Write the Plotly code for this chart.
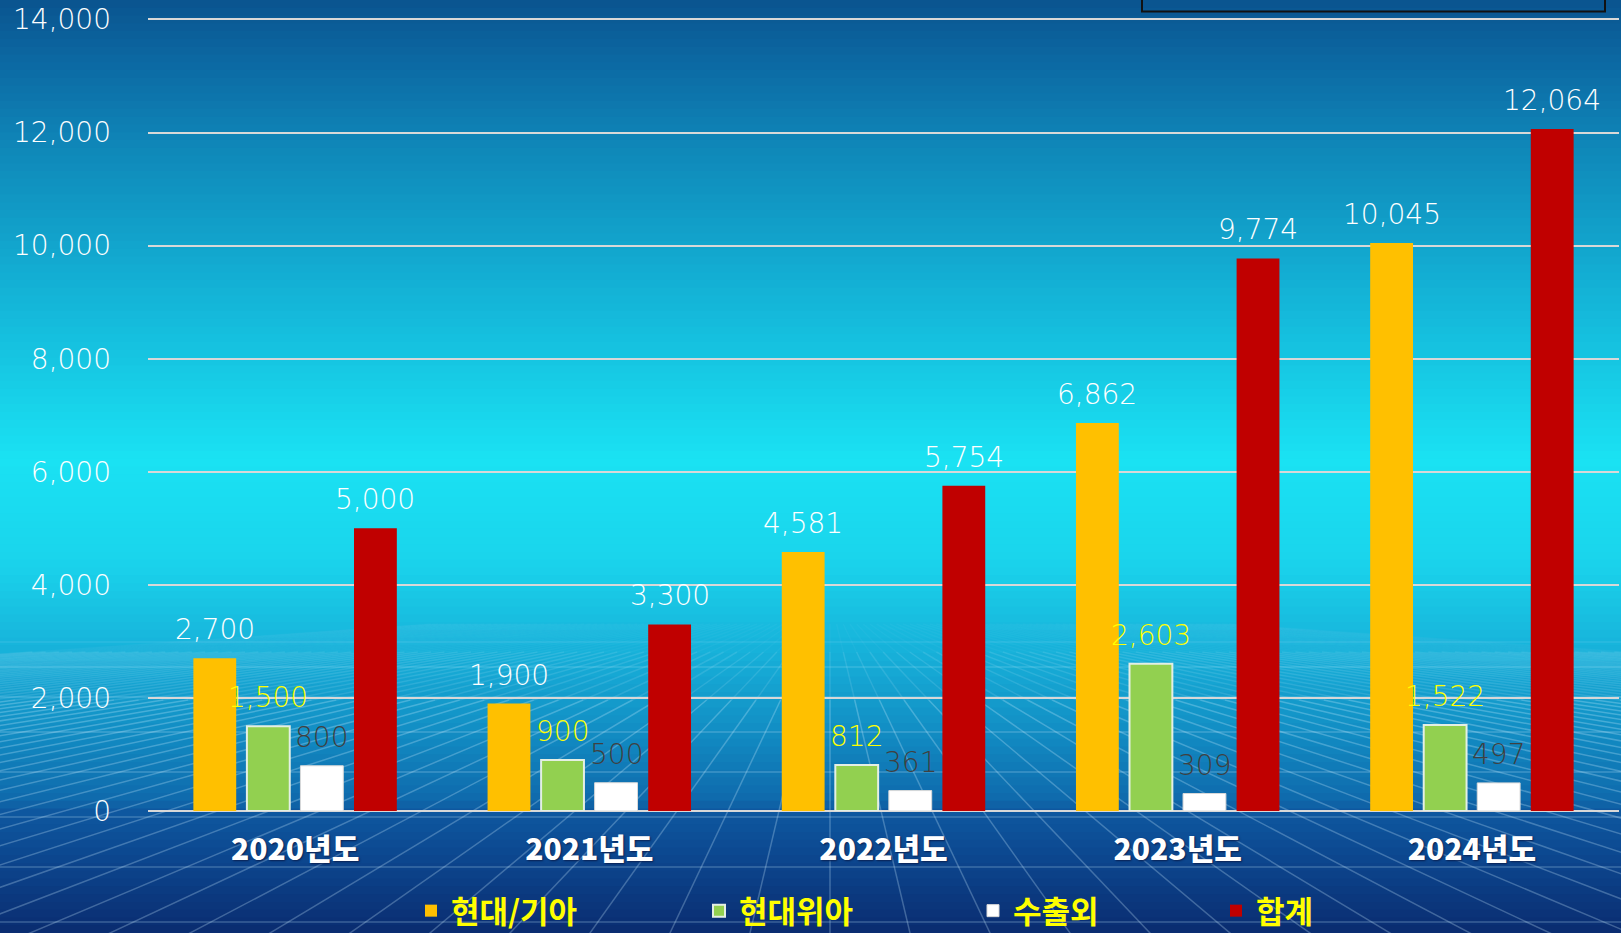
import plotly.graph_objects as go

# ---------------- data ----------------
years = ["2020년도", "2021년도", "2022년도", "2023년도", "2024년도"]
series_names = ["현대/기아", "현대위아", "수출외", "합계"]
hyundai_kia = [2700, 1900, 4581, 6862, 10045]
hyundai_wia = [1500, 900, 812, 2603, 1522]
export_etc = [800, 500, 361, 309, 497]
total = [5000, 3300, 5754, 9774, 12064]
y_ticks = [0, 2000, 4000, 6000, 8000, 10000, 12000, 14000]

# ---------------- styles ----------------
bar_colors = ["#ffc000", "#92d050", "#ffffff", "#c00000"]
bar_lines = ["#ffc000", "#e4efe4", "#d9d9d9", "#c00000"]
bar_line_w = [0, 2, 1, 0]
label_colors = ["#ffffff", "#ffff00", "#404040", "#ffffff"]
NUM_FONT = "DejaVu Sans"
KR_FONT = "Noto Sans CJK KR"

W_PX, H_PX = 1621, 933
L, R, T, B = 148, 1619, 16, 811
PW, PH = R - L, B - T
Y_MAX = 14061  # 14,000 gridline lands ~3.5px below the plot top
BARGAP, GROUPGAP = 0.272, 0.2
legend_square_x = [431, 719, 993, 1236]


def px(x):
    return (x - L) / PW


def py(y):
    return (B - y) / PH


fig = go.Figure()
x_idx = list(range(len(years)))
all_series = [hyundai_kia, hyundai_wia, export_etc, total]
legend_ids = ["legend", "legend2", "legend3", "legend4"]
for j, (name, vals) in enumerate(zip(series_names, all_series)):
    fig.add_trace(go.Bar(
        x=x_idx, y=vals, name=name, legend=legend_ids[j],
        marker=dict(color=bar_colors[j], line=dict(color=bar_lines[j], width=bar_line_w[j])),
        hoverinfo="y+name",
    ))

# value labels (annotations positioned at the bar centers)
slot = (1 - BARGAP) / len(series_names)
annotations = []
for j, vals in enumerate(all_series):
    off = (j - (len(series_names) - 1) / 2) * slot
    for i, v in enumerate(vals):
        annotations.append(dict(
            x=i + off, y=v, xref="x", yref="y", text=f"{v:,}", showarrow=False,
            yanchor="bottom", yshift=10,
            font=dict(family=NUM_FONT, size=28, color=label_colors[j], weight=200),
        ))

# ---------------- background (gradient + perspective floor grid) ----------------
stops = [
    (0, (10, 84, 143)), (60, (12, 104, 162)), (150, (15, 136, 185)), (300, (20, 181, 216)),
    (460, (26, 226, 243)), (560, (26, 212, 236)), (650, (23, 178, 218)), (730, (18, 142, 196)),
    (800, (15, 106, 172)), (811, (14, 88, 160)), (860, (12, 70, 142)), (933, (10, 44, 112)),
]


def col_at(y):
    for (y0, c0), (y1, c1) in zip(stops[:-1], stops[1:]):
        if y0 <= y <= y1:
            t = (y - y0) / (y1 - y0) if y1 > y0 else 0
            return "rgb(%d,%d,%d)" % tuple(round(a + (b - a) * t) for a, b in zip(c0, c1))
    return "rgb(%d,%d,%d)" % stops[-1][1]


shapes = []
N = 120
for k in range(N):
    y0 = k * H_PX / N
    y1 = (k + 1) * H_PX / N + 0.8
    shapes.append(dict(type="rect", xref="paper", yref="paper", layer="below",
                       x0=px(-2), x1=px(W_PX + 2), y0=py(y1), y1=py(y0),
                       fillcolor=col_at((y0 + y1) / 2), line=dict(width=0)))

vx, vy = 830, 596
for k in range(-60, 61):
    bx = vx + k * 80
    for ya, yb, op in [(624, 652, 0.04), (652, 700, 0.13), (700, H_PX + 2, 0.28)]:
        ta = (ya - vy) / (H_PX - vy)
        tb = (yb - vy) / (H_PX - vy)
        shapes.append(dict(type="line", xref="paper", yref="paper", layer="below",
                           x0=px(vx + (bx - vx) * ta), y0=py(ya),
                           x1=px(vx + (bx - vx) * tb), y1=py(yb),
                           line=dict(color="rgba(205,238,255,%.2f)" % op, width=1.5)))
for hy, op in [(642, 0.12), (667, 0.18), (697, 0.22), (732, 0.25), (772, 0.25),
               (817, 0.25), (867, 0.25), (922, 0.25)]:
    shapes.append(dict(type="line", xref="paper", yref="paper", layer="below",
                       x0=px(0), y0=py(hy), x1=px(W_PX), y1=py(hy),
                       line=dict(color="rgba(205,238,255,%.2f)" % op, width=1.5)))

# cut-off box at top right
shapes.append(dict(type="rect", xref="paper", yref="paper",
                   x0=px(1142), x1=px(1605), y0=py(11.5), y1=py(-6),
                   fillcolor="rgba(0,0,0,0)", line=dict(color="#111111", width=2)))

legend_style = dict(
    orientation="h", xanchor="left", y=py(911), yanchor="middle",
    bgcolor="rgba(0,0,0,0)", tracegroupgap=0,
    font=dict(family=KR_FONT, size=31, color="#ffff00", weight="bold"),
)
legends = {}
for j, lid in enumerate(legend_ids):
    legends[lid] = dict(legend_style, x=px(legend_square_x[j] - 20))

fig.update_layout(
    width=W_PX, height=H_PX,
    margin=dict(l=L, r=W_PX - R, t=T, b=H_PX - B, autoexpand=False),
    paper_bgcolor="rgb(10,60,120)", plot_bgcolor="rgba(0,0,0,0)",
    barmode="group", bargap=BARGAP, bargroupgap=GROUPGAP,
    shapes=shapes, annotations=annotations,
    showlegend=True,
    xaxis=dict(
        range=[-0.5, len(years) - 0.5], tickmode="array", tickvals=x_idx, ticktext=years,
        showgrid=False, zeroline=False, showline=False, ticks="", ticklabelstandoff=18,
        tickfont=dict(family=KR_FONT, size=30, color="#ffffff", weight=900,
                      shadow="1px 1px 2px #0a2050"),
    ),
    yaxis=dict(
        range=[0, Y_MAX], tickmode="array", tickvals=y_ticks, tickformat=",",
        showgrid=True, gridcolor="#d8d8d8", gridwidth=2,
        zeroline=True, zerolinecolor="#d8d8d8", zerolinewidth=2,
        showline=False, ticks="", ticklabelstandoff=36, ticklabeloverflow="allow",
        tickfont=dict(family=NUM_FONT, size=28, color="#ffffff", weight=200),
    ),
    **legends,
)

fig.write_html(
    "out.html",
    config={"displayModeBar": False},
    post_script="document.body.style.margin='0';document.body.style.overflow='hidden';",
)
